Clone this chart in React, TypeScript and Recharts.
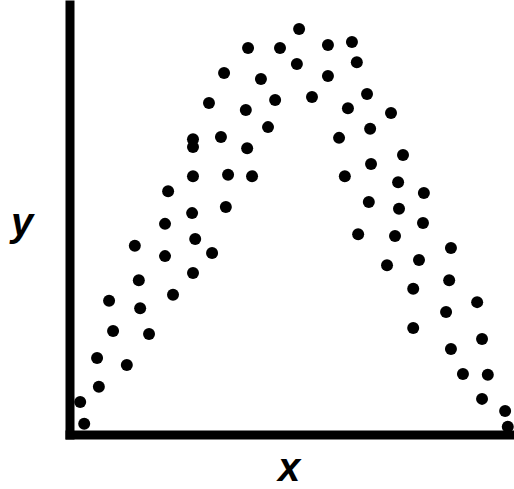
import React from 'react';
import { ScatterChart, Scatter, XAxis, YAxis } from 'recharts';

// x and y values (both axes run 0..100, no ticks shown)
const xValues = [
  3.2, 2.3, 6.5, 6.1, 12.8, 9.7, 17.8, 8.8, 15.8, 15.5, 23.2, 14.6, 21.4, 27.7,
  21.4, 28.2, 32.0, 22.1, 27.5, 35.1, 27.7, 35.6, 41.0, 27.7, 27.7, 34.0, 39.9,
  44.6, 31.3, 39.6, 46.2, 34.7, 43.0, 40.1, 47.3, 51.6, 51.1, 58.1, 63.5, 64.6,
  58.1, 54.5, 66.9, 62.6, 72.3, 67.6, 60.6, 75.0, 67.8, 61.9, 73.9, 79.7, 67.3,
  74.1, 79.5, 64.9, 73.2, 85.8, 71.4, 78.6, 85.4, 77.3, 91.7, 84.7, 77.3, 92.8,
  85.8, 88.5, 94.1, 92.8, 98.0, 98.6,
];

const yValues = [
  2.6, 7.7, 11.2, 17.9, 16.3, 24.2, 23.5, 31.2, 29.5, 36.0, 32.6, 44.0, 41.6, 37.7,
  49.1, 45.6, 42.3, 56.7, 51.6, 53.0, 60.2, 60.5, 60.2, 68.8, 67.0, 69.3, 66.7,
  71.6, 77.2, 75.6, 77.9, 84.2, 82.8, 90.0, 90.0, 94.4, 86.3, 90.7, 91.4, 86.7,
  83.5, 78.6, 79.3, 76.0, 74.9, 71.2, 69.1, 65.1, 63.0, 60.2, 58.8, 56.3, 54.2,
  52.6, 49.3, 46.7, 46.3, 43.5, 39.5, 40.7, 36.0, 34.0, 30.9, 28.6, 24.9, 22.3,
  20.0, 14.2, 14.0, 8.4, 5.6, 1.9,
];

const points = xValues.map((x, i) => ({ x, y: yValues[i] }));

const labelStyle = {
  fontFamily: '"Liberation Sans", Arial, sans-serif',
  fontWeight: 'bold',
  fontStyle: 'italic',
  fontSize: 40,
  fill: '#000',
};

const axisLine = { stroke: '#000', strokeWidth: 9, strokeLinecap: 'square' as const };

const Dot = (props: any) => <circle cx={props.cx} cy={props.cy} r={6} fill="#000" />;

export default function App() {
  return (
    <div style={{ position: 'absolute', left: 0, top: 0, background: '#fff' }}>
      <ScatterChart width={514} height={489} margin={{ top: 5, right: 0, bottom: 0, left: 0 }}>
        <XAxis
          type="number"
          dataKey="x"
          domain={[0, 100]}
          tick={false}
          tickLine={false}
          axisLine={axisLine}
          height={54}
          label={{
            content: ({ viewBox }: any) => (
              <text x={viewBox.x + viewBox.width / 2 - 3} y={viewBox.y + 46} textAnchor="middle" style={labelStyle}>
                x
              </text>
            ),
          }}
        />
        <YAxis
          type="number"
          dataKey="y"
          domain={[0, 100]}
          tick={false}
          tickLine={false}
          axisLine={axisLine}
          width={70}
          label={{
            content: ({ viewBox }: any) => (
              <text x={viewBox.x + 22} y={viewBox.y + viewBox.height / 2 + 16} textAnchor="middle" style={labelStyle}>
                y
              </text>
            ),
          }}
        />
        <Scatter data={points} shape={Dot} isAnimationActive={false} />
      </ScatterChart>
    </div>
  );
}
